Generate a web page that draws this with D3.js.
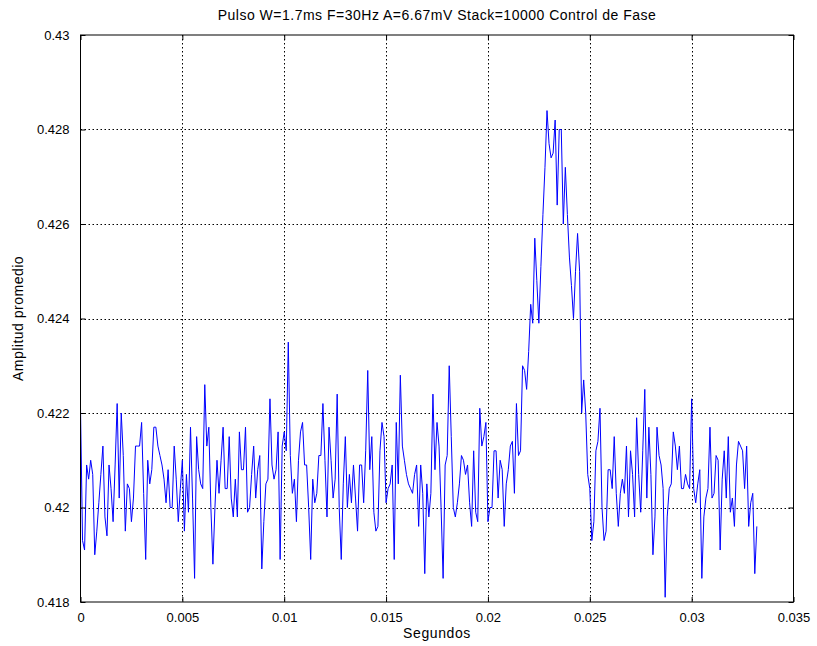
<!DOCTYPE html>
<html>
<head>
<meta charset="utf-8">
<script src="https://cdn.jsdelivr.net/npm/d3@7"></script>
<style>
  html, body { margin: 0; padding: 0; background: #fff; }
  svg { display: block; font-family: "Liberation Sans", Arial, Helvetica, sans-serif; }
</style>
</head>
<body>
<svg id="chart" width="817" height="646"></svg>
<script>
// Averaged response, sampled every 0.1 ms
const sampleStep = 0.0001;
const amplitude = [
  0.4221, 0.4193, 0.4191, 0.4209, 0.4206, 0.4210, 0.4207, 0.4190, 0.4195, 0.4201,
  0.4207, 0.4213, 0.4198, 0.4194, 0.4209, 0.4204, 0.4197, 0.4209, 0.4222, 0.4202,
  0.4220, 0.4211, 0.4195, 0.4205, 0.4204, 0.4197, 0.4202, 0.4213, 0.4213, 0.4213,
  0.4218, 0.4203, 0.4189, 0.4210, 0.4205, 0.4208, 0.4217, 0.4217, 0.4213, 0.4211,
  0.4209, 0.4206, 0.4201, 0.4208, 0.4200, 0.4200, 0.4213, 0.4206, 0.4197, 0.4204,
  0.4210, 0.4195, 0.4207, 0.4199, 0.4217, 0.4202, 0.4185, 0.4215, 0.4208, 0.4205,
  0.4204, 0.4226, 0.4213, 0.4217, 0.4200, 0.4188, 0.4200, 0.4210, 0.4203, 0.4210,
  0.4217, 0.4204, 0.4204, 0.4215, 0.4202, 0.4198, 0.4206, 0.4198, 0.4216, 0.4208,
  0.4208, 0.4217, 0.4199, 0.4200, 0.4207, 0.4213, 0.4202, 0.4208, 0.4211, 0.4187,
  0.4197, 0.4205, 0.4206, 0.4223, 0.4209, 0.4206, 0.4208, 0.4216, 0.4189, 0.4213,
  0.4216, 0.4212, 0.4235, 0.4211, 0.4203, 0.4206, 0.4197, 0.4210, 0.4216, 0.4218,
  0.4209, 0.4209, 0.4200, 0.4189, 0.4206, 0.4201, 0.4203, 0.4211, 0.4211, 0.4222,
  0.4210, 0.4198, 0.4217, 0.4210, 0.4202, 0.4206, 0.4224, 0.4200, 0.4189, 0.4205,
  0.4215, 0.4200, 0.4207, 0.4201, 0.4209, 0.4202, 0.4195, 0.4209, 0.4209, 0.4201,
  0.4212, 0.4229, 0.4208, 0.4215, 0.4199, 0.4195, 0.4196, 0.4212, 0.4218, 0.4215,
  0.4201, 0.4204, 0.4205, 0.4209, 0.4189, 0.4218, 0.4205, 0.4228, 0.4213, 0.4210,
  0.4207, 0.4205, 0.4204, 0.4203, 0.4207, 0.4209, 0.4196, 0.4209, 0.4203, 0.4186,
  0.4205, 0.4198, 0.4203, 0.4224, 0.4208, 0.4218, 0.4213, 0.4200, 0.4185, 0.4209,
  0.4211, 0.4230, 0.4215, 0.4200, 0.4198, 0.4201, 0.4205, 0.4211, 0.4210, 0.4207,
  0.4209, 0.4201, 0.4196, 0.4212, 0.4199, 0.4197, 0.4221, 0.4213, 0.4215, 0.4218,
  0.4197, 0.4200, 0.4200, 0.4212, 0.4212, 0.4202, 0.4210, 0.4208, 0.4196, 0.4205,
  0.4208, 0.4213, 0.4214, 0.4203, 0.4222, 0.4211, 0.4212, 0.4230, 0.4229, 0.4225,
  0.4233, 0.4243, 0.4239, 0.4257, 0.4248, 0.4239, 0.4251, 0.4262, 0.4272, 0.4284,
  0.4277, 0.4274, 0.4275, 0.4282, 0.4264, 0.4280, 0.4280, 0.4260, 0.4272, 0.4262,
  0.4253, 0.4247, 0.4240, 0.4250, 0.4258, 0.4250, 0.4220, 0.4227, 0.4220, 0.4207,
  0.4204, 0.4193, 0.4197, 0.4212, 0.4214, 0.4221, 0.4200, 0.4193, 0.4195, 0.4208,
  0.4208, 0.4204, 0.4215, 0.4203, 0.4196, 0.4203, 0.4206, 0.4203, 0.4213, 0.4198,
  0.4212, 0.4207, 0.4198, 0.4219, 0.4207, 0.4199, 0.4212, 0.4225, 0.4202, 0.4217,
  0.4207, 0.4190, 0.4198, 0.4217, 0.4211, 0.4209, 0.4204, 0.4181, 0.4198, 0.4204,
  0.4205, 0.4216, 0.4213, 0.4208, 0.4213, 0.4204, 0.4204, 0.4207, 0.4205, 0.4204,
  0.4223, 0.4204, 0.4201, 0.4205, 0.4208, 0.4185, 0.4198, 0.4202, 0.4204, 0.4217,
  0.4202, 0.4203, 0.4211, 0.4210, 0.4191, 0.4206, 0.4212, 0.4202, 0.4215, 0.4199,
  0.4202, 0.4196, 0.4209, 0.4214, 0.4213, 0.4212, 0.4204, 0.4213, 0.4196, 0.4201,
  0.4203, 0.4186, 0.4196
];

const xTicks = [0, 0.005, 0.01, 0.015, 0.02, 0.025, 0.03, 0.035];
const xTickLabels = ["0", "0.005", "0.01", "0.015", "0.02", "0.025", "0.03", "0.035"];
const yTicks = [0.418, 0.42, 0.422, 0.424, 0.426, 0.428, 0.43];
const yTickLabels = ["0.418", "0.42", "0.422", "0.424", "0.426", "0.428", "0.43"];

const titleText = "Pulso W=1.7ms F=30Hz A=6.67mV Stack=10000 Control de Fase";
const xLabelText = "Segundos";
const yLabelText = "Amplitud promedio";

const plot = { left: 80.5, right: 793.5, top: 35, bottom: 602 };
const svg = d3.select("#chart");
svg.append("rect").attr("width", 817).attr("height", 646).attr("fill", "#fff");

const x = d3.scaleLinear().domain([0, 0.035]).range([plot.left, plot.right]);
const y = d3.scaleLinear().domain([0.418, 0.43]).range([plot.bottom, plot.top]);

const w = plot.right - plot.left, h = plot.bottom - plot.top;
const tickLen = 5;

// dotted grid
const grid = svg.append("g").attr("stroke", "#000").attr("stroke-width", 1)
  .attr("stroke-dasharray", "1.5,2.5").attr("fill", "none");
grid.selectAll("line.vx").data(xTicks.slice(1, -1)).join("line")
  .attr("x1", d => Math.round(x(d)) + 0.5).attr("x2", d => Math.round(x(d)) + 0.5)
  .attr("y1", plot.top).attr("y2", plot.bottom);
grid.selectAll("line.hy").data(yTicks.slice(1, -1)).join("line")
  .attr("y1", d => Math.round(y(d)) + 0.5).attr("y2", d => Math.round(y(d)) + 0.5)
  .attr("x1", plot.left).attr("x2", plot.right);

// signal trace
const line = d3.line()
  .x((d, i) => x(i * sampleStep))
  .y(d => y(d));
svg.append("path").datum(amplitude)
  .attr("fill", "none").attr("stroke", "#0000ff").attr("stroke-width", 1)
  .attr("stroke-linejoin", "round")
  .attr("d", line);

// axes with inward ticks on all four sides
const fmtX = d => xTickLabels[xTicks.indexOf(d)];
const fmtY = d => yTickLabels[yTicks.indexOf(d)];

const axB = svg.append("g").attr("transform", `translate(0,${plot.bottom})`)
  .call(d3.axisBottom(x).tickValues(xTicks).tickFormat(fmtX).tickSizeInner(-tickLen).tickSizeOuter(0).tickPadding(11));
const axT = svg.append("g").attr("transform", `translate(0,${plot.top})`)
  .call(d3.axisTop(x).tickValues(xTicks).tickFormat("").tickSizeInner(-tickLen).tickSizeOuter(0));
const axL = svg.append("g").attr("transform", `translate(${plot.left},0)`)
  .call(d3.axisLeft(y).tickValues(yTicks).tickFormat(fmtY).tickSizeInner(-tickLen).tickSizeOuter(0).tickPadding(11));
const axR = svg.append("g").attr("transform", `translate(${plot.right},0)`)
  .call(d3.axisRight(y).tickValues(yTicks).tickFormat("").tickSizeInner(-tickLen).tickSizeOuter(0));

[axB, axT, axL, axR].forEach(g => {
  g.select(".domain").remove();
  g.selectAll(".tick line").attr("stroke", "#000");
  g.selectAll(".tick text").attr("fill", "#000").attr("font-size", 13)
    .attr("font-family", '"Liberation Sans", Arial, sans-serif');
});

// frame
svg.append("rect").attr("x", plot.left).attr("y", plot.top)
  .attr("width", w).attr("height", h)
  .attr("fill", "none").attr("stroke", "#000").attr("stroke-width", 1);

// titles
svg.append("text").attr("x", (plot.left + plot.right) / 2).attr("y", 20)
  .attr("text-anchor", "middle").attr("font-size", 14).attr("letter-spacing", 0.5)
  .attr("fill", "#000").text(titleText);
svg.append("text").attr("x", (plot.left + plot.right) / 2).attr("y", 638)
  .attr("text-anchor", "middle").attr("font-size", 14).attr("letter-spacing", 0.6)
  .attr("fill", "#000").text(xLabelText);
svg.append("text")
  .attr("transform", `translate(23,${(plot.top + plot.bottom) / 2}) rotate(-90)`)
  .attr("text-anchor", "middle").attr("font-size", 14).attr("letter-spacing", 0.5)
  .attr("fill", "#000").text(yLabelText);
</script>
</body>
</html>
